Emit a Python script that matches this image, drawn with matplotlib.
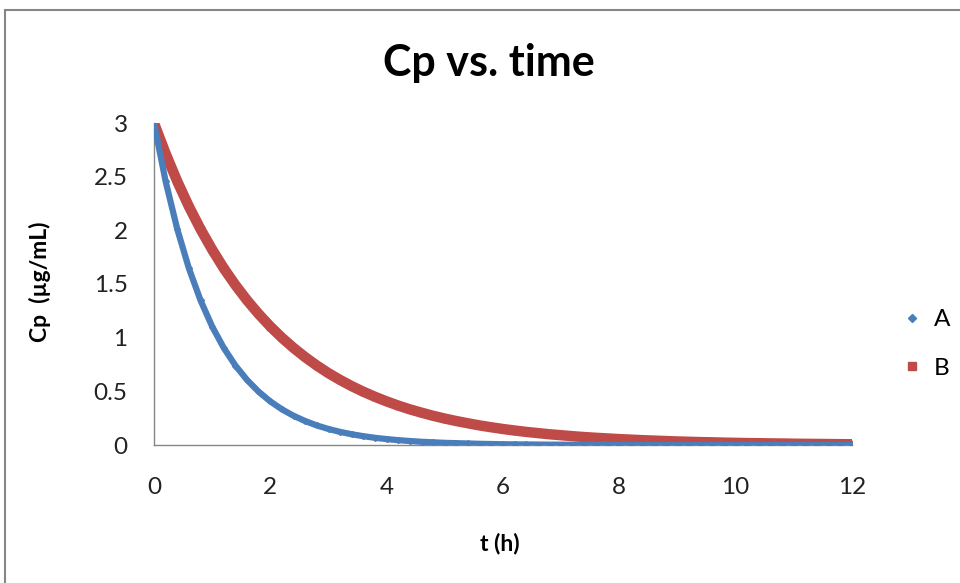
import matplotlib
matplotlib.use("Agg")
import matplotlib.pyplot as plt
from matplotlib.lines import Line2D
from matplotlib.patches import Rectangle

# time points (h)
t = [round(0.2 * i, 1) for i in range(61)]

# Series A (µg/mL)
cp_a = [3.000, 2.456, 2.011, 1.646, 1.348, 1.104, 0.904, 0.740, 0.606, 0.496,
        0.406, 0.332, 0.272, 0.223, 0.182, 0.149, 0.122, 0.100, 0.082, 0.067,
        0.055, 0.045, 0.037, 0.030, 0.025, 0.020, 0.017, 0.014, 0.011, 0.009,
        0.007, 0.006, 0.005, 0.004, 0.003, 0.003, 0.002, 0.002, 0.002, 0.001,
        0.001, 0.001, 0.001, 0.001, 0.000, 0.000, 0.000, 0.000, 0.000, 0.000,
        0.000, 0.000, 0.000, 0.000, 0.000, 0.000, 0.000, 0.000, 0.000, 0.000,
        0.000]

# Series B (µg/mL)
cp_b = [3.000, 2.715, 2.456, 2.222, 2.011, 1.820, 1.646, 1.490, 1.348, 1.220,
        1.104, 0.999, 0.904, 0.818, 0.740, 0.669, 0.606, 0.548, 0.496, 0.449,
        0.406, 0.367, 0.332, 0.301, 0.272, 0.246, 0.223, 0.202, 0.182, 0.165,
        0.149, 0.135, 0.122, 0.111, 0.100, 0.091, 0.082, 0.074, 0.067, 0.061,
        0.055, 0.050, 0.045, 0.041, 0.037, 0.033, 0.030, 0.027, 0.025, 0.022,
        0.020, 0.018, 0.017, 0.015, 0.014, 0.012, 0.011, 0.010, 0.009, 0.008,
        0.007]

x_ticks = [0, 2, 4, 6, 8, 10, 12]
y_ticks = [0, 0.5, 1, 1.5, 2, 2.5, 3]
y_tick_labels = ["0", "0.5", "1", "1.5", "2", "2.5", "3"]

BLUE = "#4a7ebb"
RED = "#be4b48"
GRAY = "#868686"
FONT = ["Lato", "DejaVu Sans"]

plt.rcParams["font.family"] = FONT

fig = plt.figure(figsize=(9.6, 5.83), dpi=100)
fig.patch.set_facecolor("white")
fig.patches.append(Rectangle((5 / 960, -0.05), 1.2, 1 - 10 / 583 + 0.05,
                             transform=fig.transFigure, fill=False,
                             edgecolor=GRAY, linewidth=1.5, zorder=0))

ax = fig.add_axes([154 / 960, 1 - 445 / 583, (852 - 154) / 960, (445 - 123) / 583])

ax.plot(t, cp_a, color=BLUE, linewidth=4.5, marker="D", markersize=3,
        solid_capstyle="round", zorder=3)
ax.plot(t, cp_b, color=RED, linewidth=7.5, marker="s", markersize=5,
        solid_capstyle="butt", zorder=2)

ax.set_xlim(0, 12)
ax.set_ylim(0, 3)
ax.set_xticks(x_ticks)
ax.set_xticklabels([str(v) for v in x_ticks])
ax.set_yticks(y_ticks)
ax.set_yticklabels(y_tick_labels)
ax.tick_params(axis="both", length=0, labelsize=17.5, colors="#222222")
ax.tick_params(axis="x", pad=23)
ax.tick_params(axis="y", pad=19)

for side in ("top", "right"):
    ax.spines[side].set_visible(False)
for side in ("left", "bottom"):
    ax.spines[side].set_color(GRAY)
    ax.spines[side].set_linewidth(1.0)

fig.text(489 / 960, 1 - 63 / 583, "Cp vs. time", ha="center", va="center",
         fontsize=31, fontweight="bold", color="black")
fig.text(500 / 960, 1 - 543 / 583, "t (h)", ha="center", va="center",
         fontsize=16.5, fontweight="bold", color="black")
fig.text(40 / 960, 1 - 282 / 583, "Cp  (\u00b5g/mL)", ha="center", va="center",
         rotation=90, fontsize=16.5, fontweight="bold", color="black")

handles = [Line2D([], [], color=BLUE, marker="D", markersize=4, linestyle="none"),
           Line2D([], [], color=RED, marker="s", markersize=5.5, linestyle="none")]
leg = fig.legend(handles, ["A", "B"], loc="center left",
                 bbox_to_anchor=(900 / 960, 1 - 344 / 583), frameon=False,
                 fontsize=17.5, handlelength=1.0, handletextpad=0.4,
                 labelspacing=1.15, borderpad=0, borderaxespad=0)

fig.savefig("out.png", dpi=100, facecolor="white")
